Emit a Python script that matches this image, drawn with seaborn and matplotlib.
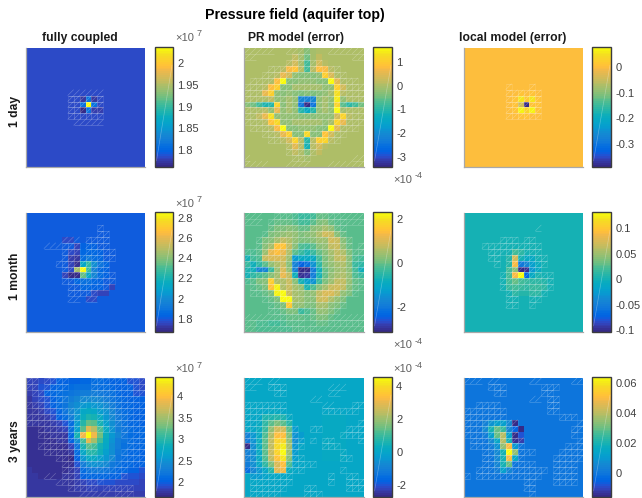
import numpy as np
import seaborn as sns
from matplotlib import pyplot as plt
from matplotlib.collections import LineCollection
from matplotlib.colors import ListedColormap

W, H = 642, 498

# parula, sampled
PARULA = ListedColormap([
    (0.2081, 0.1663, 0.5292), (0.2116, 0.1898, 0.5777), (0.2123, 0.2138, 0.6270), (0.2081, 0.2386, 0.6771),
    (0.1959, 0.2645, 0.7279), (0.1707, 0.2919, 0.7792), (0.1253, 0.3242, 0.8303), (0.0591, 0.3598, 0.8683),
    (0.0117, 0.3875, 0.8820), (0.0060, 0.4086, 0.8828), (0.0165, 0.4266, 0.8786), (0.0329, 0.4430, 0.8720),
    (0.0498, 0.4586, 0.8641), (0.0629, 0.4737, 0.8554), (0.0723, 0.4887, 0.8467), (0.0779, 0.5040, 0.8384),
    (0.0793, 0.5200, 0.8312), (0.0749, 0.5375, 0.8263), (0.0641, 0.5570, 0.8240), (0.0488, 0.5772, 0.8228),
    (0.0343, 0.5966, 0.8199), (0.0265, 0.6137, 0.8135), (0.0239, 0.6287, 0.8038), (0.0231, 0.6418, 0.7913),
    (0.0228, 0.6535, 0.7768), (0.0267, 0.6642, 0.7607), (0.0384, 0.6743, 0.7436), (0.0590, 0.6838, 0.7254),
    (0.0843, 0.6928, 0.7062), (0.1133, 0.7015, 0.6859), (0.1453, 0.7098, 0.6646), (0.1801, 0.7177, 0.6424),
    (0.2178, 0.7250, 0.6193), (0.2586, 0.7317, 0.5954), (0.3022, 0.7376, 0.5712), (0.3482, 0.7424, 0.5473),
    (0.3953, 0.7459, 0.5244), (0.4420, 0.7481, 0.5033), (0.4871, 0.7491, 0.4840), (0.5300, 0.7491, 0.4661),
    (0.5709, 0.7485, 0.4494), (0.6099, 0.7473, 0.4337), (0.6473, 0.7456, 0.4188), (0.6834, 0.7435, 0.4044),
    (0.7184, 0.7411, 0.3905), (0.7525, 0.7384, 0.3768), (0.7858, 0.7356, 0.3633), (0.8185, 0.7327, 0.3498),
    (0.8507, 0.7299, 0.3360), (0.8824, 0.7274, 0.3217), (0.9139, 0.7258, 0.3063), (0.9450, 0.7261, 0.2886),
    (0.9739, 0.7314, 0.2666), (0.9938, 0.7455, 0.2403), (0.9990, 0.7653, 0.2164), (0.9955, 0.7861, 0.1967),
    (0.9880, 0.8066, 0.1794), (0.9789, 0.8271, 0.1633), (0.9697, 0.8481, 0.1475), (0.9626, 0.8705, 0.1309),
    (0.9589, 0.8949, 0.1132), (0.9598, 0.9218, 0.0948), (0.9661, 0.9514, 0.0755), (0.9763, 0.9831, 0.0538),
])

COLUMN_TITLES = ["fully coupled", "PR model (error)", "local model (error)"]
ROW_LABELS = ["1 day", "1 month", "3 years"]

# fully coupled, units of 1e7
FC_DAY = [[1.783] * 20 for _ in range(20)]
FC_DAY[8][9:12] = [1.772, 1.81, 1.77]
FC_DAY[9][9:12] = [1.81, 2.037, 1.81]
FC_DAY[10][9:13] = [1.763, 1.81, 1.775, 1.775]

FC_MONTH = [[1.80] * 20 for _ in range(20)]
FC_MONTH[4][6:8] = [1.77, 1.77]
FC_MONTH[5][8:12] = [1.75, 1.82, 1.82, 1.82]
FC_MONTH[6][7:13] = [1.78, 1.76, 1.84, 1.84, 1.84, 1.82]
FC_MONTH[7][7:13] = [1.74, 1.72, 1.87, 1.92, 1.87, 1.85]
FC_MONTH[8][7:14] = [1.76, 1.70, 2.12, 2.26, 2.02, 1.90, 1.84]
FC_MONTH[9][7:14] = [1.78, 2.45, 2.855, 2.28, 1.95, 1.84, 1.82]
FC_MONTH[10][6:14] = [1.75, 1.68, 1.67, 2.35, 2.12, 1.97, 1.86, 1.82]
FC_MONTH[11][8:13] = [1.85, 1.88, 1.88, 1.85, 1.82]
FC_MONTH[12][9:15] = [1.84, 1.84, 1.82, 1.82, 1.80, 1.75]
FC_MONTH[13][11:14] = [1.78, 1.75, 1.76]
FC_MONTH[14][10:12] = [1.77, 1.77]

FC_YEARS = [
    [1.85, 1.85, 1.90, 1.90, 1.95, 2.00, 2.00, 2.00, 2.00, 2.05, 2.05, 2.10, 2.10, 2.05, 2.00, 2.00, 2.00, 1.95, 1.95, 1.90],
    [1.85, 1.85, 1.95, 1.95, 2.00, 2.05, 2.05, 2.10, 2.15, 2.15, 2.15, 2.15, 2.10, 2.10, 2.05, 2.00, 2.00, 2.00, 1.95, 1.90],
    [1.80, 1.85, 1.90, 2.00, 2.05, 2.10, 2.15, 2.20, 2.25, 2.30, 2.30, 2.30, 2.25, 2.20, 2.15, 2.05, 2.00, 2.00, 1.95, 1.95],
    [1.75, 1.85, 1.90, 1.95, 2.00, 2.10, 2.20, 2.30, 2.35, 2.40, 2.40, 2.40, 2.35, 2.30, 2.20, 2.10, 2.05, 2.00, 2.00, 2.00],
    [1.75, 1.80, 1.85, 1.95, 2.00, 2.10, 2.20, 2.35, 2.45, 2.55, 2.60, 2.55, 2.50, 2.40, 2.30, 2.15, 2.05, 2.05, 2.00, 2.00],
    [1.75, 1.75, 1.80, 1.90, 1.95, 2.05, 2.20, 2.35, 2.50, 2.70, 2.75, 2.70, 2.60, 2.50, 2.35, 2.20, 2.10, 2.05, 2.00, 2.00],
    [1.75, 1.75, 1.75, 1.80, 1.90, 2.00, 2.10, 2.30, 2.55, 2.80, 2.95, 2.90, 2.75, 2.55, 2.40, 2.25, 2.15, 2.05, 2.00, 2.00],
    [1.75, 1.75, 1.75, 1.75, 1.80, 1.85, 1.95, 2.10, 2.60, 3.00, 3.25, 3.20, 2.90, 2.65, 2.45, 2.30, 2.15, 2.05, 2.05, 2.00],
    [1.72, 1.72, 1.72, 1.75, 1.78, 1.82, 1.85, 2.15, 2.65, 3.20, 3.80, 3.60, 3.15, 2.75, 2.50, 2.30, 2.20, 2.10, 2.05, 2.05],
    [1.72, 1.72, 1.72, 1.72, 1.75, 1.78, 1.78, 2.05, 2.90, 3.90, 4.45, 3.90, 3.30, 2.80, 2.55, 2.35, 2.20, 2.10, 2.05, 2.05],
    [1.72, 1.72, 1.72, 1.72, 1.72, 1.75, 1.75, 2.00, 2.45, 3.10, 3.80, 3.50, 3.10, 2.75, 2.50, 2.30, 2.20, 2.10, 2.05, 2.05],
    [1.72, 1.72, 1.72, 1.72, 1.72, 1.72, 1.70, 1.85, 2.20, 2.90, 3.20, 3.10, 2.90, 2.70, 2.45, 2.30, 2.15, 2.10, 2.05, 2.05],
    [1.72, 1.72, 1.72, 1.72, 1.72, 1.72, 1.70, 1.75, 2.10, 2.70, 3.00, 3.00, 2.85, 2.65, 2.45, 2.25, 2.15, 2.05, 2.05, 2.00],
    [1.72, 1.72, 1.72, 1.72, 1.72, 1.72, 1.72, 1.68, 2.00, 2.55, 2.75, 2.75, 2.65, 2.55, 2.40, 2.20, 2.10, 2.05, 2.05, 2.00],
    [1.72, 1.72, 1.72, 1.72, 1.72, 1.72, 1.72, 1.70, 1.95, 2.30, 2.45, 2.50, 2.45, 2.40, 2.25, 2.15, 2.05, 2.05, 2.00, 2.00],
    [1.75, 1.72, 1.72, 1.72, 1.72, 1.72, 1.72, 1.75, 1.85, 2.10, 2.20, 2.25, 2.25, 2.20, 2.15, 2.05, 2.05, 2.00, 2.00, 1.95],
    [1.75, 1.75, 1.72, 1.72, 1.72, 1.72, 1.75, 1.78, 1.85, 2.00, 2.05, 2.05, 2.05, 2.05, 2.00, 2.00, 1.95, 1.95, 1.95, 1.90],
    [1.75, 1.75, 1.75, 1.75, 1.75, 1.75, 1.75, 1.78, 1.80, 1.85, 1.90, 1.90, 1.95, 1.95, 1.95, 1.90, 1.90, 1.90, 1.90, 1.85],
    [1.75, 1.75, 1.75, 1.75, 1.75, 1.75, 1.78, 1.78, 1.80, 1.80, 1.85, 1.85, 1.85, 1.85, 1.85, 1.85, 1.85, 1.85, 1.85, 1.85],
    [1.75, 1.75, 1.75, 1.75, 1.75, 1.75, 1.78, 1.78, 1.78, 1.80, 1.80, 1.80, 1.80, 1.80, 1.80, 1.80, 1.80, 1.80, 1.80, 1.80],
]

# PR model error, units of 1e-4
PR_DAY = [
    [0, 0, 0, 0, 0, 0, 0, 0, 0, -.1, -.3, -.1, 0, 0, 0, 0, 0, 0, 0, 0],
    [0, 0, 0, 0, 0, 0, 0, 0, .2, -.1, -.5, -.1, .2, 0, 0, 0, 0, 0, 0, 0],
    [0, 0, 0, 0, 0, 0, 0, .1, .3, -.1, -.8, -.1, .3, .1, 0, 0, 0, 0, 0, 0],
    [0, 0, 0, 0, 0, 0, .1, .7, .9, .1, -.8, .1, .8, .7, .1, 0, 0, 0, 0, 0],
    [0, 0, 0, 0, 0, .1, .6, .3, -.2, -.3, -.3, -.3, -.2, 1.0, .4, 0, 0, 0, 0, 0],
    [0, 0, 0, 0, 0, .8, 1.6, -.3, -.3, -.2, -.2, -.2, -.3, -.3, 1.6, .5, 0, 0, 0, 0],
    [0, 0, 0, .1, .8, 1.0, -.3, -.3, -.1, -.1, -.1, -.1, -.1, -.2, -.2, 1.0, .3, 0, 0, 0],
    [0, 0, 0, .6, 1.0, -.2, -.3, -.2, -.3, -.4, -.3, -.4, -.3, -.2, -.1, 1.3, .1, 0, 0, 0],
    [0, 0, 0, 0, .2, -.2, -.2, -.1, -.2, -2.1, -2.2, -2.1, -.2, -.1, -.2, 1.4, -.2, 0, 0, 0],
    [-.3, -.5, -.8, -1.1, -1.0, 1.1, -.3, -.1, -.2, -2.4, -3.42, -2.4, -.2, -.1, -.3, 1.1, -.6, -.9, -.8, -.5],
    [0, 0, 0, .1, -.2, .6, -.2, -.1, -.2, -1.0, -1.4, -1.0, -.2, -.1, -.2, 1.6, -.1, 0, 0, 0],
    [0, 0, .2, .6, 1.3, -.2, -.2, -.2, -.2, -.3, -.3, -.3, -.2, -.2, -.2, .3, 1.1, .1, 0, 0],
    [0, 0, 0, .1, .9, 1.2, -.2, -.2, -.1, -.1, -.1, -.1, -.1, -.2, -.1, 1.1, .6, 0, 0, 0],
    [0, 0, 0, 0, .1, .7, 1.6, -.3, -.3, -.2, -.2, -.2, -.3, -.3, 1.6, .5, 0, 0, 0, 0],
    [0, 0, 0, 0, 0, .1, .6, 1.0, -.3, -.3, 1.2, -.3, -.3, .9, .3, 0, 0, 0, 0, 0],
    [0, 0, 0, 0, 0, 0, .1, .3, 1.1, .1, -1.0, .1, 1.0, 1.1, .1, 0, 0, 0, 0, 0],
    [0, 0, 0, 0, 0, 0, 0, .1, .5, .1, -1.2, .1, .3, .1, 0, 0, 0, 0, 0, 0],
    [0, 0, 0, 0, 0, 0, 0, 0, .2, 0, -.3, 0, .2, 0, 0, 0, 0, 0, 0, 0],
    [0, 0, 0, 0, 0, 0, 0, 0, 0, 0, -.1, 0, 0, 0, 0, 0, 0, 0, 0, 0],
    [0, 0, 0, 0, 0, 0, 0, 0, 0, 0, 0, 0, 0, 0, 0, 0, 0, 0, 0, 0],
]

PR_MONTH = [
    [-.1, -.1, -.1, -.1, -.1, -.1, -.1, -.1, -.2, -.4, -.4, -.3, 0, 0, -.1, -.1, -.1, -.1, -.1, -.1],
    [-.1, -.1, -.1, -.1, -.1, 0, 0, 0, -.1, -.3, -.3, -.1, .1, .2, 0, -.1, -.1, -.1, -.1, -.1],
    [-.1, -.1, -.1, -.1, 0, .1, .1, .2, .1, 0, 0, .2, .3, .5, .3, 0, -.1, -.1, -.1, -.1],
    [-.1, -.1, -.1, -.1, .1, .2, .3, .4, .3, .1, .2, .3, .6, .9, .8, .2, 0, -.1, -.1, -.1],
    [-.1, -.1, -.1, .1, .2, .5, .7, .6, .3, .1, .1, .2, .4, .4, .9, .8, .2, 0, -.1, -.1],
    [-.1, -.1, -.1, .2, .5, 1.5, 1.5, .7, .2, -.2, -.3, -.1, .2, .3, .7, .8, .3, 0, -.1, -.1],
    [-.2, -.2, -.1, .4, 1.2, 1.4, 1.2, .6, -.1, -.4, -.6, -.4, 0, .2, .5, .7, .6, .1, -.1, -.1],
    [-.7, -.3, -.2, .8, 1.0, 1.0, .9, .4, -1.3, -1.0, -1.0, -1.0, -.3, .1, .4, .7, .7, .2, -.2, -.3],
    [-.4, -.8, -.5, -.1, .3, .6, .8, .2, -1.8, -2.4, -2.2, -1.5, -.5, .1, .3, .5, .6, .2, -.4, -.5],
    [-.6, -.8, -1.7, -1.7, -.4, .4, 1.0, .3, -1.8, -3.1, -3.1, -2.0, -.8, 0, .2, .4, .5, .2, -.3, -.8],
    [-.7, -.5, -.3, -.1, .2, .5, 1.2, .7, -.8, -3.0, -2.9, -1.9, -.7, 0, .3, .5, .6, .3, -.2, -.4],
    [-.2, -.1, .1, .2, 1.7, .6, .6, .8, .2, -.7, -1.2, -1.5, -.4, .1, .4, .7, .7, .3, 0, -.1],
    [-.1, -.1, 0, .1, 1.5, 2.2, .6, .8, .5, .3, -.6, -.2, .2, .5, .8, .9, .7, .2, 0, -.1],
    [-.1, -.1, -.1, 0, .1, 2.2, 2.3, .8, .5, .4, .2, .3, .7, 1.0, 1.0, .7, .3, .1, -.1, -.1],
    [-.1, -.1, -.1, -.1, 0, .1, 2.3, 2.3, .5, .4, .2, .2, .8, .9, .6, .3, .1, -.1, -.1, -.1],
    [-.1, -.1, -.1, -.1, -.1, 0, .1, 1.6, .3, .3, .1, .1, .5, .5, .2, .1, 0, -.1, -.1, -.1],
    [-.1, -.1, -.1, -.1, -.1, -.1, 0, .1, .1, -.4, -.2, 0, .3, .3, .1, 0, -.1, -.1, -.1, -.1],
    [-.1, -.1, -.1, -.1, -.1, -.1, -.1, 0, 0, 0, -.1, 0, .1, .1, 0, -.1, -.1, -.1, -.1, -.1],
    [-.1, -.1, -.2, -.2, -.3, -.3, -.2, -.1, -.1, -.1, -.1, -.1, 0, 0, -.1, -.1, -.1, -.1, -.1, -.1],
    [-.1, -.1, -.2, -.2, -.2, -.2, -.2, -.2, -.1, -.1, -.1, -.1, -.1, -.1, -.1, -.1, -.1, -.1, -.1, -.1],
]

PR_YEARS = [[0.0] * 20 for _ in range(20)]
PR_YEARS[5][3:7] = [.1, .2, .2, .1]
PR_YEARS[6][2:8] = [.1, .6, .6, .7, .6, .2]
PR_YEARS[7][2:9] = [.2, .9, 1.3, 1.6, 1.3, .7, .1]
PR_YEARS[8][0:9] = [0, .1, .3, 1.0, 1.9, 2.7, 2.7, 1.3, -.3]
PR_YEARS[9][0:10] = [-1.0, -.4, .2, 1.2, 2.2, 3.4, 3.3, 1.6, -.5, -.3]
PR_YEARS[10][0:10] = [-1.2, -.5, .3, 1.3, 2.5, 3.8, 3.8, 1.9, -.6, -.2]
PR_YEARS[11][0:9] = [-2.73, -.6, .3, 1.3, 2.5, 3.9, 4.3, 2.1, -.4]
PR_YEARS[12][0:9] = [-1.0, -.6, .2, 1.3, 2.6, 3.8, 4.55, 2.0, -.3]
PR_YEARS[13][0:9] = [-1.0, -.6, .2, 1.2, 2.4, 3.5, 4.2, 1.8, -.2]
PR_YEARS[14][0:9] = [-1.1, -.6, 0, .8, 1.6, 2.8, 3.3, 1.2, -.1]
PR_YEARS[15][0:8] = [-1.5, -.8, -.4, .1, .7, 2.9, 3.1, .3]
PR_YEARS[16][1:8] = [-.3, -.3, -.1, 0, .1, .1, 0]
for row in range(6, 14):
    PR_YEARS[row][12:18] = [.1, .2, .2, .2, .2, .1]

# local model error
LOCAL_DAY = [[0.0] * 20 for _ in range(20)]
LOCAL_DAY[7][8:12] = [.004, .006, .004, .006]
LOCAL_DAY[8][8:13] = [.008, .05, .02, .05, .008]
LOCAL_DAY[9][8:13] = [.012, -.04, -.39, .012, .006]
LOCAL_DAY[10][8:13] = [.008, .07, .03, .07, .008]
LOCAL_DAY[11][8:12] = [.004, .008, .008, .004]

LOCAL_MONTH = [[0.002] * 20 for _ in range(20)]
LOCAL_MONTH[6][8:12] = [.02, .012, 0, 0]
LOCAL_MONTH[7][7:13] = [.01, .07, 0, -.01, -.01, 0]
LOCAL_MONTH[8][7:13] = [.01, .09, -.055, -.045, -.02, -.008]
LOCAL_MONTH[9][7:13] = [.02, .04, -.104, -.1, -.03, -.01]
LOCAL_MONTH[10][7:13] = [.02, .09, .132, -.07, -.01, .004]
LOCAL_MONTH[11][7:14] = [.02, .03, .02, .015, .012, .012, .01]
LOCAL_MONTH[12][7:14] = [.015, .02, .015, .012, .015, .015, .012]
LOCAL_MONTH[13][8:13] = [.012, .01, .01, .012, .012]

LOCAL_YEARS = [[0.0] * 20 for _ in range(20)]
LOCAL_YEARS[7][3:9] = [.003, .008, .012, .012, .006, -.015]
LOCAL_YEARS[8][3:10] = [.006, .02, .03, .025, .004, -.005, -.016]
LOCAL_YEARS[9][3:10] = [.002, .012, .03, .04, .012, -.016, -.008]
LOCAL_YEARS[10][3:10] = [0, .006, .014, .04, .02, -.014, -.012]
LOCAL_YEARS[11][4:9] = [.002, .008, .035, .05, .01]
LOCAL_YEARS[12][4:9] = [.001, .006, .02, .064, .035]
LOCAL_YEARS[13][5:9] = [.006, .02, .05, .015]
LOCAL_YEARS[14][5:8] = [.005, .02, .03]
LOCAL_YEARS[15][5:8] = [.002, .012, .004]

FIELDS = [
    [FC_DAY, PR_DAY, LOCAL_DAY],
    [FC_MONTH, PR_MONTH, LOCAL_MONTH],
    [FC_YEARS, PR_YEARS, LOCAL_YEARS],
]
LIMITS = [
    [(1.761, 2.037), (-3.42, 1.63), (-.39, .079)],
    [(1.67, 2.855), (-3.15, 2.32), (-.104, .132)],
    [(1.65, 4.45), (-2.73, 4.55), (-.016, .064)],
]
TICKS = [
    [[1.8, 1.85, 1.9, 1.95, 2], [-3, -2, -1, 0, 1], [-.3, -.2, -.1, 0]],
    [[1.8, 2, 2.2, 2.4, 2.6, 2.8], [-2, 0, 2], [-.1, -.05, 0, .05, .1]],
    [[2, 2.5, 3, 3.5, 4], [-2, 0, 2, 4], [0, .02, .04, .06]],
]
TICK_LABELS = [
    [["1.8", "1.85", "1.9", "1.95", "2"], ["-3", "-2", "-1", "0", "1"], ["-0.3", "-0.2", "-0.1", "0"]],
    [["1.8", "2", "2.2", "2.4", "2.6", "2.8"], ["-2", "0", "2"], ["-0.1", "-0.05", "0", "0.05", "0.1"]],
    [["2", "2.5", "3", "3.5", "4"], ["-2", "0", "2", "4"], ["0", "0.02", "0.04", "0.06"]],
]

# triangulated mesh cells: '#' full cell, '/' diagonal and lower edge, '.' nothing
MESH_FC_DAY = ["." * 20] * 7 + [
    ".......//////.......",
    ".......######.......",
    ".......######.......",
    ".......######.......",
    ".......######.......",
    "......../////.......",
] + ["." * 20] * 7
MESH_PR_DAY = [
    "/////..////...//////",
    "//......###.......//",
    ".......######.......",
    "....############....",
    "...##############...",
    ".##################.",
    "####################",
    "####################",
    "####################",
    "####################",
    "####################",
    "####################",
    "####################",
    ".##################.",
    "...##############...",
    "....############....",
    ".......######.......",
    ".......#####........",
    "/.......###.......//",
    "////...////...//////",
]
MESH_LOCAL_DAY = ["." * 20] * 6 + [
    ".......#...#........",
    ".......######.......",
    ".......######.......",
    ".......######.......",
    ".......######.......",
    ".......######.......",
] + ["." * 20] * 8
MESH_FC_MONTH = ["." * 20] * 2 + [
    "............#.......",
    "............##......",
    "......///.####......",
    "...///###.####......",
    "......###.#####.....",
    "......#########.....",
    ".....#########......",
    "......########......",
    "......#########.....",
    "......#########.....",
    ".......#######......",
    ".......#####........",
    ".......//.//........",
] + ["." * 20] * 5
MESH_PR_MONTH = [
    "///..###########////",
    "///.#############///",
    "....#############...",
    "...##############...",
    "..################..",
    "..################.#",
    "####################",
    "####################",
    "####################",
    "####################",
    "####################",
    "####################",
    ".###################",
    ".##################.",
    "...##############...",
    "....#############...",
    "....############....",
    "/////#########//////",
    "/#########.#########",
    "//////######////////",
]
MESH_LOCAL_MONTH = ["." * 20] * 2 + [
    "............/.......",
    "....................",
    "......###.##........",
    "...##########.......",
    "....#########.......",
    "....##.#######......",
    ".....#.#######......",
    ".......######.......",
    "......#########.....",
    "......#########.....",
    "......#########.....",
    ".......##..###......",
    ".......##..##.......",
    ".......##..#........",
] + ["." * 20] * 4
MESH_FC_YEARS = [
    "##.####....#########",
    "##.####....#########",
    ".#####.....#########",
    "..#####..##########.",
    "######...#.#########",
    ".########...########",
    "#########...#.######",
    "#########...##.#####",
    "..#######...###.####",
    "..########......#.##",
    "...#######.......###",
    "..##########.....###",
    "...#########....####",
    ".....########.#.####",
    "......########.#####",
    "......###########...",
    "...//.###########...",
    "...../#######.......",
    ".......#####.#####..",
    "........./////.#/#..",
]
MESH_PR_YEARS = [
    "///.//..............",
    "//..###.......///...",
    ".....##.......//....",
    "...........//.......",
    "#######......//...##",
    "#######......######.",
    "########............",
    "########...........#",
    "#########..##....###",
    "#########.......####",
    "##########.#.##....#",
    "##########...###....",
    "#########.......#...",
    "##########......##..",
    ".###########........",
    "##########......#...",
    ".#######......#..##.",
    ".#######......#..###",
    ".######...##.....###",
    ".#####....###.......",
]
MESH_LOCAL_YEARS = [
    "///.//.....//.....//",
    "....###......###....",
    ".....##......##.....",
    "...........//.##....",
    "..####........##....",
    "#######.......##....",
    "#######.........###.",
    "#########..........#",
    "#########.........##",
    "#########.........#.",
    ".#########.........#",
    ".#########.......###",
    "...#########....####",
    "...#######.....#####",
    "...#########...####.",
    "..############.####.",
    "#.###########..####.",
    "..........##...####.",
    "..........##........",
    "...........#........",
]
MESHES = [
    [MESH_FC_DAY, MESH_PR_DAY, MESH_LOCAL_DAY],
    [MESH_FC_MONTH, MESH_PR_MONTH, MESH_LOCAL_MONTH],
    [MESH_FC_YEARS, MESH_PR_YEARS, MESH_LOCAL_YEARS],
]

# pixel boxes of the panels
COL_X = [(26, 145, 155, 173), (244, 364, 373, 392), (464, 583, 592, 611)]
ROW_Y = [(48, 167), (213, 332), (378, 497)]
EXPONENTS = [
    [("7", 175, 38), ("-4", 393, 180), (None, 0, 0)],
    [("7", 175, 204), ("-4", 393, 345), (None, 0, 0)],
    [("7", 175, 369), ("-4", 393, 369), (None, 0, 0)],
]
TEXT_COLOR = "#404040"


def pixel_box(x0, x1, y0, y1):
    return [x0 / W, 1 - y1 / H, (x1 - x0) / W, (y1 - y0) / H]


def mesh_segments(mask):
    slanted, sides = [], []
    for r, row in enumerate(mask):
        for c, cell in enumerate(row):
            if cell == ".":
                continue
            slanted.append([(c, r + 1), (c + 1, r)])
            slanted.append([(c, r + 1), (c + 1, r + 1)])
            if cell == "#":
                slanted.append([(c, r), (c + 1, r)])
                sides.append([(c, r), (c, r + 1)])
                sides.append([(c + 1, r), (c + 1, r + 1)])
    return slanted, sides


sns.set_theme(style="white")
plt.rcParams["font.family"] = ["Liberation Sans", "DejaVu Sans"]

fig = plt.figure(figsize=(W / 100, H / 100), dpi=100)
fig.text(295 / W, 1 - 15 / H, "Pressure field (aquifer top)", fontsize=10.2, fontweight="bold",
         color="black", ha="center", va="center")

for i, (y0, y1) in enumerate(ROW_Y):
    fig.text(15 / W, 1 - (y0 + y1 + 8) / 2 / H, ROW_LABELS[i], rotation=90, fontsize=8.7, fontweight="bold",
             color="#1a1a1a", ha="center", va="center")
    for j, (x0, x1, cx0, cx1) in enumerate(COL_X):
        ax = fig.add_axes(pixel_box(x0, x1, y0, y1))
        cax = fig.add_axes(pixel_box(cx0, cx1, y0 - 1, y1))
        vmin, vmax = LIMITS[i][j]
        sns.heatmap(np.array(FIELDS[i][j], dtype=float), ax=ax, cbar_ax=cax, cmap=PARULA, vmin=vmin, vmax=vmax,
                    xticklabels=False, yticklabels=False, linewidths=0, rasterized=True)
        slanted, sides = mesh_segments(MESHES[i][j])
        ax.add_collection(LineCollection(slanted, colors="white", linewidths=0.4, alpha=0.3))
        ax.add_collection(LineCollection(sides, colors="white", linewidths=0.4, alpha=0.16))
        for name, spine in ax.spines.items():
            spine.set_visible(name in ("left", "bottom"))
            spine.set_color("#a8a8a8")
            spine.set_linewidth(0.9)

        cbar = ax.collections[0].colorbar
        cbar.set_ticks(TICKS[i][j])
        cbar.set_ticklabels(TICK_LABELS[i][j])
        cbar.outline.set_visible(True)
        cbar.outline.set_edgecolor("#3c3c3c")
        cbar.outline.set_linewidth(1.0)
        cax.tick_params(direction="in", length=2, width=0.6, right=True, color="#3c3c3c", labelsize=8, pad=3,
                        labelcolor=TEXT_COLOR)
        cax.plot([0.08, 0.95], [0.05, 0.85], transform=cax.transAxes, color="white", alpha=0.3, lw=0.5,
                 scalex=False, scaley=False)

        exponent, ex, ey = EXPONENTS[i][j]
        if exponent is not None:
            fig.text(ex / W, 1 - ey / H, "\u00d710", fontsize=8, color="#606060", ha="left", va="center")
            fig.text((ex + 22) / W, 1 - (ey - 4) / H, exponent, fontsize=6.5, color="#606060", ha="left", va="center")

for j, centre in enumerate([79.5, 295.5, 513]):
    fig.text(centre / W, 1 - 38 / H, COLUMN_TITLES[j], fontsize=8.75, fontweight="bold", color="#1a1a1a",
             ha="center", va="center")

fig.savefig("out.png", dpi=100)
